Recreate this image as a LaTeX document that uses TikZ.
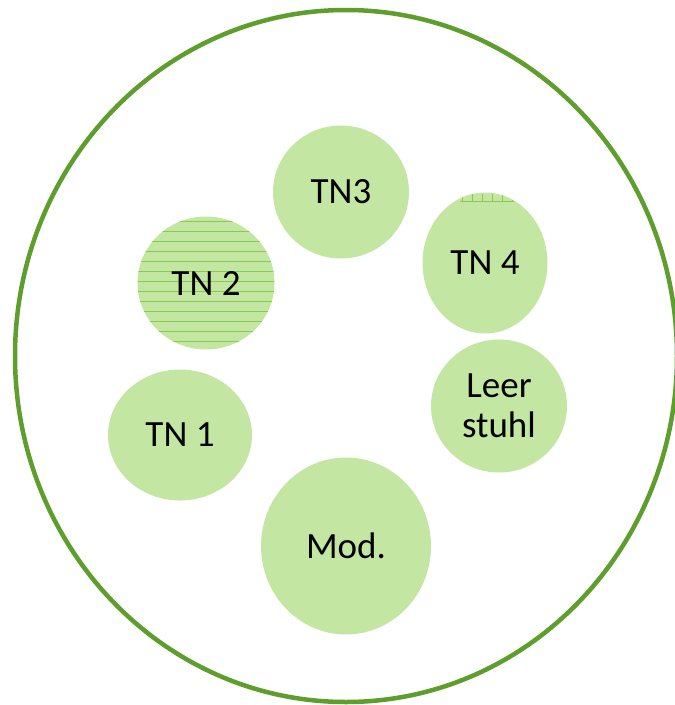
\documentclass[tikz,border=0pt]{standalone}
\usepackage{fontspec}
\setmainfont{Carlito}
\definecolor{seatfill}{HTML}{C3E6A2}
\definecolor{ringgreen}{HTML}{5E9E2C}
\definecolor{stripegreen}{HTML}{86CC4A}
\newcommand{\seatfont}{\fontsize{37}{40}\selectfont}
\tikzset{
  seat/.style={ellipse, fill=seatfill, draw=none, inner sep=0pt, align=center,
    font=\seatfont},
  stripe/.style={stripegreen, line width=0.9pt},
}
\usetikzlibrary{shapes.geometric}
\begin{document}
\begin{tikzpicture}[x=1pt,y=-1pt]
  \useasboundingbox (0,0) rectangle (675,705);
  % outer table ring
  \draw[ringgreen, line width=4.5pt] (346,356) ellipse [x radius=331, y radius=346];
  % seats
  \node[seat, minimum width=136pt, minimum height=133pt] (tn3) at (341,192) {TN3};
  \node[seat, minimum width=137pt, minimum height=133pt] (tn2) at (206,283) {};
  \node[seat, minimum width=125pt, minimum height=141pt] (tn4) at (485,263) {};
  \node[seat, minimum width=136pt, minimum height=133pt] (leer) at (499,406) {Leer\\stuhl};
  \node[seat, minimum width=144pt, minimum height=131pt] (tn1) at (180,435) {TN 1};
  \node[seat, minimum width=170pt, minimum height=177pt] (mod) at (346,546) {Mod.};
  % horizontal stripes on TN 2
  \begin{scope}
    \clip (206,283) ellipse [x radius=68.5, y radius=66.5];
    \foreach \yy in {221,231,...,351}
      \draw[stripe] (130,\yy) -- (290,\yy);
  \end{scope}
  \node[font=\seatfont] (tn2label) at (tn2) {TN 2};
  % small grid mark at the top of TN 4
  \begin{scope}
    \clip (485,263) ellipse [x radius=62.5, y radius=70.5];
    \draw[stripe] (460,201) -- (514,201);
    \foreach \xx in {462,472,...,512}
      \draw[stripe] (\xx,194) -- (\xx,202);
  \end{scope}
  \node[font=\seatfont] (tn4label) at (tn4) {TN 4};
\end{tikzpicture}
\end{document}
